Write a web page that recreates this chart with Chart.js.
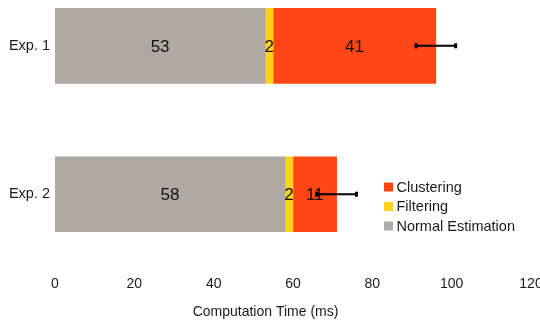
<!DOCTYPE html>
<html>
<head>
<meta charset="utf-8">
<script src="https://cdn.jsdelivr.net/npm/chart.js@4/dist/chart.umd.min.js"></script>
<style>
  html, body { margin: 0; padding: 0; background: #fff; }
  #wrap { width: 540px; height: 321px; position: relative; }
</style>
</head>
<body>
<div id="wrap"><canvas id="c"></canvas></div>
<script>
// Computation time per experiment, split by pipeline stage (ms)
const experiments = ['Exp. 1', 'Exp. 2'];
const normalEstimation = [53, 58];
const filtering = [2, 2];
const clustering = [41, 11];
const totalError = [5, 5];
const xTicks = [0, 20, 40, 60, 80, 100, 120];
const xTitle = 'Computation Time (ms)';

const FONT = '"Liberation Sans", Arial, sans-serif';
const TEXT = '#1a1a1a';

const seriesColors = {
  normal: '#b0a9a2',
  filtering: '#ffd21e',
  clustering: '#ff4614'
};

function points(values) {
  return values.map((v, i) => ({ x: v, y: i }));
}

// Segment value written in the middle of every bar piece
const segmentLabels = {
  id: 'segmentLabels',
  afterDatasetsDraw(chart) {
    const ctx = chart.ctx;
    ctx.save();
    ctx.font = '17px ' + FONT;
    ctx.fillStyle = '#111';
    ctx.textAlign = 'center';
    ctx.textBaseline = 'middle';
    chart.data.datasets.forEach((ds, di) => {
      const meta = chart.getDatasetMeta(di);
      meta.data.forEach((el, i) => {
        const cx = (el.x + el.base) / 2;
        ctx.fillText(String(ds.data[i].x), cx, el.y + 1);
      });
    });
    ctx.restore();
  }
};

// Error bar around the stacked total of each experiment
const totalErrorBars = {
  id: 'totalErrorBars',
  afterDraw(chart) {
    const ctx = chart.ctx;
    const xs = chart.scales.x, ys = chart.scales.y;
    ctx.save();
    ctx.strokeStyle = '#000';
    experiments.forEach((_, i) => {
      const total = normalEstimation[i] + filtering[i] + clustering[i];
      const lo = xs.getPixelForValue(total - totalError[i]);
      const hi = xs.getPixelForValue(total + totalError[i]);
      const y = ys.getPixelForValue(i);
      ctx.lineWidth = 2;
      ctx.beginPath();
      ctx.moveTo(lo, y);
      ctx.lineTo(hi, y);
      ctx.stroke();
      ctx.lineWidth = 3;
      ctx.beginPath();
      ctx.moveTo(lo, y - 2.5);
      ctx.lineTo(lo, y + 2.5);
      ctx.moveTo(hi, y - 2.5);
      ctx.lineTo(hi, y + 2.5);
      ctx.stroke();
    });
    ctx.restore();
  }
};

// Legend drawn inside the plot, stacked top-down in reverse series order
const innerLegend = {
  id: 'innerLegend',
  afterDraw(chart, args, opts) {
    const ctx = chart.ctx;
    const items = chart.data.datasets.slice().reverse();
    ctx.save();
    ctx.font = '14.5px ' + FONT;
    ctx.textAlign = 'left';
    ctx.textBaseline = 'middle';
    items.forEach((ds, k) => {
      const y = opts.top + k * opts.rowGap;
      ctx.fillStyle = ds.backgroundColor;
      ctx.fillRect(opts.left, y - 4.5, 9, 9);
      ctx.fillStyle = TEXT;
      ctx.fillText(ds.label, opts.left + 12.5, y + 0.5);
    });
    ctx.restore();
  }
};

// x-axis title, centred under the whole plotting width including the category labels
const axisTitle = {
  id: 'axisTitle',
  afterDraw(chart) {
    const ctx = chart.ctx;
    ctx.save();
    ctx.font = '14px ' + FONT;
    ctx.fillStyle = TEXT;
    ctx.textAlign = 'center';
    ctx.textBaseline = 'middle';
    ctx.fillText(xTitle, chart.chartArea.right / 2, chart.height - 9);
    ctx.restore();
  }
};

new Chart(document.getElementById('c'), {
  type: 'bar',
  data: {
    datasets: [
      { label: 'Normal Estimation', data: points(normalEstimation), backgroundColor: seriesColors.normal },
      { label: 'Filtering', data: points(filtering), backgroundColor: seriesColors.filtering },
      { label: 'Clustering', data: points(clustering), backgroundColor: seriesColors.clustering }
    ]
  },
  plugins: [segmentLabels, totalErrorBars, innerLegend, axisTitle],
  options: {
    indexAxis: 'y',
    responsive: true,
    maintainAspectRatio: false,
    animation: false,
    barThickness: 75,
    borderWidth: 0,
    layout: { padding: 0 },
    plugins: {
      legend: { display: false },
      tooltip: { enabled: false },
      innerLegend: { left: 384, top: 187, rowGap: 19.5 }
    },
    scales: {
      x: {
        type: 'linear',
        stacked: true,
        min: 0,
        max: 120,
        offset: false,
        grid: { display: false, drawTicks: false },
        border: { display: false },
        afterBuildTicks: s => { s.ticks = xTicks.map(v => ({ value: v })); },
        afterFit: s => { s.paddingRight = 9; s.paddingLeft = 0; s.height = 54; },
        ticks: {
          padding: 9,
          color: TEXT,
          font: { family: FONT, size: 14 },
          maxRotation: 0,
          autoSkip: false
        }
      },
      y: {
        type: 'linear',
        stacked: true,
        reverse: true,
        offset: false,
        min: -0.309,
        max: 1.49,
        grid: { display: false, drawTicks: false, offset: false },
        border: { display: false },
        afterBuildTicks: s => { s.ticks = experiments.map((_, i) => ({ value: i })); },
        afterFit: s => { s.width = 55; s.paddingTop = 0; s.paddingBottom = 0; },
        ticks: {
          padding: 5,
          color: TEXT,
          font: { family: FONT, size: 14.5 },
          callback: v => experiments[v]
        }
      }
    }
  }
});
</script>
</body>
</html>
